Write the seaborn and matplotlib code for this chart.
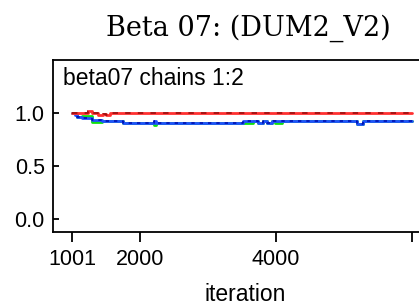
import seaborn as sns
import matplotlib.pyplot as plt
import pandas as pd

# Trace values (step-like running values)
iter_blue = [1001, 1040, 1075, 1148, 1295, 1442, 1751, 2200, 2235, 3516, 3740, 3813, 3863, 3937, 5186, 5283, 6000]
val_blue = [1.0, 0.98, 0.965, 0.953, 0.934, 0.925, 0.903, 0.928, 0.903, 0.925, 0.903, 0.925, 0.903, 0.925, 0.896, 0.925, 0.925]

iter_green = [1001, 1075, 1148, 1295, 1442, 1751, 2200, 2235, 3666, 3740, 3813, 3863, 3937, 3985, 4083, 5186, 5283, 6000]
val_green = [1.0, 0.965, 0.97, 0.918, 0.925, 0.903, 0.885, 0.903, 0.925, 0.903, 0.925, 0.903, 0.925, 0.903, 0.925, 0.896, 0.925, 0.925]

iter_red = [1001, 1236, 1300, 1380, 1460, 1500, 1560, 6000]
val_red = [1.0, 1.02, 1.0, 0.985, 0.995, 0.985, 1.0, 1.0]

xticks = [1001, 2000, 4000, 6000]
xtick_labels = ["1001", "2000", "4000", ""]
yticks = [0.0, 0.5, 1.0]

blue = pd.DataFrame({"iteration": iter_blue, "value": val_blue})
green = pd.DataFrame({"iteration": iter_green, "value": val_green})
red = pd.DataFrame({"iteration": iter_red, "value": val_red})

sns.set_style("ticks")
plt.rcParams["font.family"] = ["Liberation Sans", "DejaVu Sans"]
plt.rcParams["text.color"] = "black"
plt.rcParams["xtick.color"] = "black"
plt.rcParams["ytick.color"] = "black"

fig = plt.figure(figsize=(4.19, 3.05), dpi=100)
ax = fig.add_axes([53 / 419, 73 / 305, 376 / 419, 172 / 305])

sns.lineplot(data=green, x="iteration", y="value", ax=ax, color="#10e010",
             lw=2.0, drawstyle="steps-post", estimator=None)
sns.lineplot(data=blue, x="iteration", y="value", ax=ax, color="#2050ff",
             lw=2.0, drawstyle="steps-post", estimator=None)
sns.lineplot(data=blue, x="iteration", y="value", ax=ax, color="#0010b0",
             lw=1.2, ls=(0, (2, 3)), drawstyle="steps-post", estimator=None)
sns.lineplot(data=red, x="iteration", y="value", ax=ax, color="#ff3030",
             lw=2.0, drawstyle="steps-post", estimator=None)
sns.lineplot(data=red, x="iteration", y="value", ax=ax, color="#a01010",
             lw=1.3, ls=(0, (3, 4)), drawstyle="steps-post", estimator=None)

ax.set_xlim(721, 6250)
ax.set_ylim(-0.123, 1.5)
ax.set_xticks(xticks)
ax.set_xticklabels(xtick_labels)
ax.set_yticks(yticks)
ax.set_yticklabels([f"{v:.1f}" for v in yticks])
ax.set_xlabel("")
ax.set_ylabel("")

for side in ["left", "top", "bottom"]:
    ax.spines[side].set_linewidth(1.3)
    ax.spines[side].set_color("black")
ax.spines["right"].set_visible(False)

ax.tick_params(axis="x", direction="out", length=7, width=1.3, pad=5, labelsize=15.5,
               colors="black")
ax.tick_params(axis="y", direction="in", length=4.5, width=1.3, pad=6, labelsize=15.5,
               colors="black")

ax.text(10 / 376, 0.855, "beta07 chains 1:2", transform=ax.transAxes,
        fontsize=16.5, va="baseline", ha="left", color="black")

fig.text(248 / 419, 1 - 36 / 305, "Beta 07: (DUM2_V2)", family="DejaVu Serif",
         fontsize=19.5, ha="center", va="baseline", color="black")
fig.text(245 / 419, 4 / 305, "iteration", fontsize=16.5, ha="center", va="baseline",
         color="black")

fig.savefig("out.png", dpi=100)
